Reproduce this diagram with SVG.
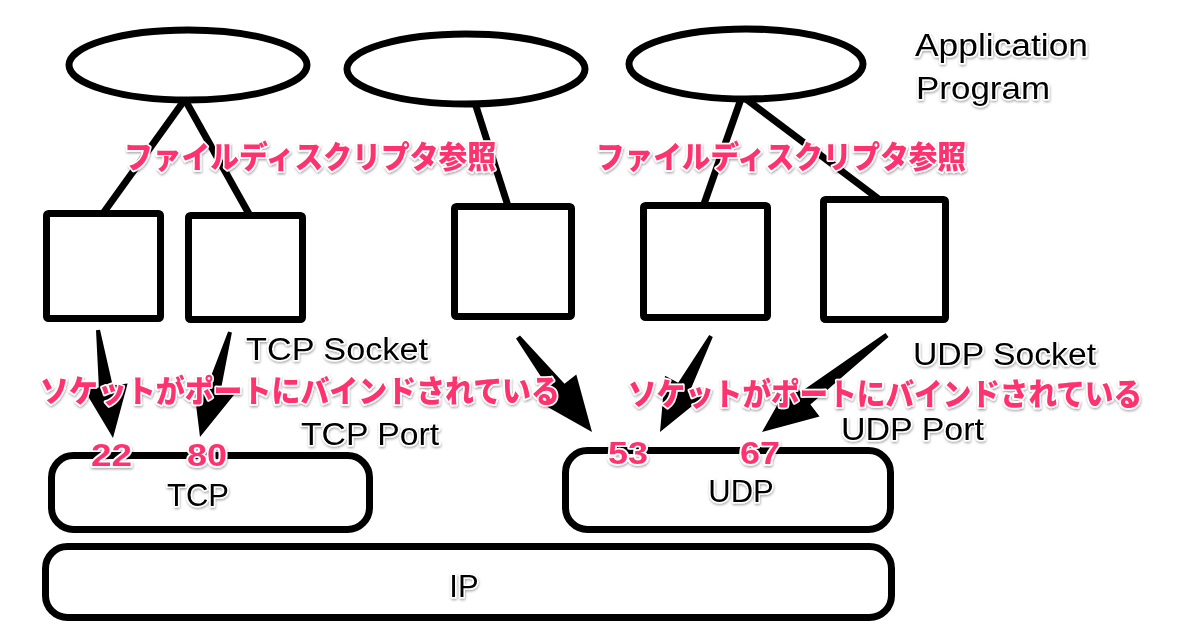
<svg xmlns="http://www.w3.org/2000/svg" width="1179" height="632" viewBox="0 0 1179 632">
<defs>
<filter id="sh" x="-20%" y="-50%" width="140%" height="200%">
<feDropShadow dx="0.5" dy="1.5" stdDeviation="1" flood-color="#000" flood-opacity="0.35"/>
</filter>
<style>
.shape{fill:#fff;stroke:#000;stroke-width:7}
.line{stroke:#000;stroke-width:7;fill:none}
.arrow{fill:#000;stroke:none}
.lbl{font-family:"Liberation Sans",Arial,sans-serif;font-size:31px;fill:#000;stroke:#fff;stroke-width:3px;paint-order:stroke;stroke-linejoin:round;filter:url(#sh)}
.jp{font-family:"Noto Sans CJK JP","Noto Sans",sans-serif;font-weight:900;font-size:31px;fill:#ff3370;stroke:#fff;stroke-width:3.5px;paint-order:stroke;stroke-linejoin:round;filter:url(#sh)}
.num{font-family:"Liberation Sans",Arial,sans-serif;font-weight:700;font-size:32px;fill:#ff3370;stroke:#fff;stroke-width:3.5px;paint-order:stroke;stroke-linejoin:round;filter:url(#sh)}
</style>
</defs>
<rect width="1179" height="632" fill="#fff"/>

<g id="connectors">
<line class="line" x1="186" y1="98" x2="104" y2="212"/>
<line class="line" x1="184" y1="98" x2="249" y2="214"/>
<line class="line" x1="474" y1="100" x2="508" y2="206"/>
<line class="line" x1="742" y1="96" x2="704" y2="204"/>
<line class="line" x1="742" y1="96" x2="880" y2="200"/>
<polygon class="arrow" points="96.0,330.3 98.9,387.5 84.0,389.5 113,438 127.6,383.5 112.7,385.5 100.0,329.7"/>
<polygon class="arrow" points="228.1,331.5 207.6,385.1 193.1,381.0 200,437 235.5,393.0 221.0,388.9 231.9,332.5"/>
<polygon class="arrow" points="516.0,338.5 551.9,393.5 540.1,402.7 592,432 576.3,374.5 564.5,383.7 520.0,335.5"/>
<polygon class="arrow" points="709.2,335.1 678.2,382.8 665.0,375.8 660,432 703.8,396.4 690.6,389.4 712.8,336.9"/>
<polygon class="arrow" points="885.5,333.0 800.6,392.0 791.4,380.1 762,432 819.6,416.5 810.4,404.6 888.5,337.0"/>
</g>

<g id="app1"><ellipse class="shape" cx="188" cy="65" rx="119" ry="35"/></g>
<g id="app2"><ellipse class="shape" cx="466" cy="69" rx="119" ry="35"/></g>
<g id="app3"><ellipse class="shape" cx="746" cy="64" rx="117" ry="35"/></g>

<g id="sock1"><rect class="shape" x="46.5" y="213.5" width="114" height="105" rx="2"/></g>
<g id="sock2"><rect class="shape" x="188.5" y="215.5" width="114" height="104" rx="2"/></g>
<g id="sock3"><rect class="shape" x="454.5" y="206.5" width="117" height="110" rx="2"/></g>
<g id="sock4"><rect class="shape" x="643.5" y="205.5" width="124" height="112" rx="2"/></g>
<g id="sock5"><rect class="shape" x="823.5" y="199.5" width="122" height="120" rx="2"/></g>

<g id="tcp"><rect class="shape" x="51.5" y="455.5" width="318" height="74" rx="22"/><text class="lbl" x="198" y="506" text-anchor="middle">TCP</text></g>
<g id="udp"><rect class="shape" x="565.5" y="450.5" width="325" height="79" rx="22"/><text class="lbl" x="741" y="502" text-anchor="middle">UDP</text></g>
<g id="ip"><rect class="shape" x="45.5" y="546.5" width="846" height="71" rx="22"/><text class="lbl" x="464" y="597" text-anchor="middle">IP</text></g>

<g id="labels">
<text class="lbl" x="915" y="56" textLength="173" lengthAdjust="spacingAndGlyphs">Application</text>
<text class="lbl" x="916" y="99" textLength="134" lengthAdjust="spacingAndGlyphs">Program</text>
<text class="jp" x="124" y="168" textLength="372" lengthAdjust="spacingAndGlyphs">ファイルディスクリプタ参照</text>
<text class="jp" x="596" y="168" textLength="370" lengthAdjust="spacingAndGlyphs">ファイルディスクリプタ参照</text>
<text class="lbl" x="246" y="360" textLength="182" lengthAdjust="spacingAndGlyphs">TCP Socket</text>
<text class="lbl" x="913" y="365" textLength="183" lengthAdjust="spacingAndGlyphs">UDP Socket</text>
<text class="jp" x="40" y="402" textLength="520" lengthAdjust="spacingAndGlyphs">ソケットがポートにバインドされている</text>
<text class="jp" x="628" y="405" textLength="514" lengthAdjust="spacingAndGlyphs">ソケットがポートにバインドされている</text>
<text class="lbl" x="301" y="445" textLength="138" lengthAdjust="spacingAndGlyphs">TCP Port</text>
<text class="lbl" x="841" y="440" textLength="143" lengthAdjust="spacingAndGlyphs">UDP Port</text>
<text class="num" x="91" y="466" textLength="41" lengthAdjust="spacingAndGlyphs">22</text>
<text class="num" x="187" y="466" textLength="40" lengthAdjust="spacingAndGlyphs">80</text>
<text class="num" x="608" y="464" textLength="40" lengthAdjust="spacingAndGlyphs">53</text>
<text class="num" x="740" y="464" textLength="40" lengthAdjust="spacingAndGlyphs">67</text>
</g>
</svg>
